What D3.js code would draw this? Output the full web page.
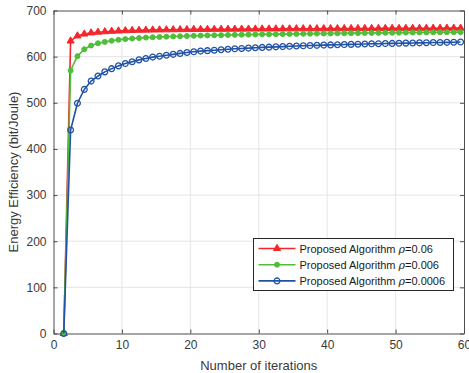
<!DOCTYPE html>
<html>
<head>
<meta charset="utf-8">
<script src="https://cdn.jsdelivr.net/npm/d3@7"></script>
<style>
  body { margin: 0; background: #fff; }
  text { font-family: "Liberation Sans", Arial, sans-serif; }
</style>
</head>
<body>
<div id="chart"></div>
<script>
// iteration index of each sample
const iterations = [1.5, 2.5, 3.5, 4.5, 5.5, 6.5, 7.5, 8.5, 9.5, 10.5,
    11.5, 12.5, 13.5, 14.5, 15.5, 16.5, 17.5, 18.5, 19.5, 20.5,
    21.5, 22.5, 23.5, 24.5, 25.5, 26.5, 27.5, 28.5, 29.5, 30.5,
    31.5, 32.5, 33.5, 34.5, 35.5, 36.5, 37.5, 38.5, 39.5, 40.5,
    41.5, 42.5, 43.5, 44.5, 45.5, 46.5, 47.5, 48.5, 49.5, 50.5,
    51.5, 52.5, 53.5, 54.5, 55.5, 56.5, 57.5, 58.5, 59.5];

const eeRho006 = [0, 634, 645, 649, 651.5, 653, 654, 655, 655.7, 656.3,
    656.8, 657.2, 657.5, 657.8, 658.0, 658.2, 658.4, 658.6, 658.8, 659.0,
    659.1, 659.2, 659.3, 659.4, 659.5, 659.6, 659.7, 659.8, 659.9, 660.0,
    660.1, 660.2, 660.3, 660.4, 660.4, 660.5, 660.6, 660.6, 660.7, 660.8,
    660.8, 660.9, 661.0, 661.0, 661.1, 661.1, 661.2, 661.2, 661.3, 661.3,
    661.4, 661.4, 661.5, 661.5, 661.6, 661.6, 661.7, 661.7, 661.8];

const eeRho0006 = [0, 570, 601, 616, 624, 629, 632, 634.5, 636.5, 638,
    639.3, 640.4, 641.3, 642, 642.7, 643.3, 643.8, 644.3, 644.8, 645.2,
    645.6, 646, 646.3, 646.6, 646.9, 647.2, 647.5, 647.8, 648, 648.3,
    648.5, 648.7, 648.9, 649.1, 649.3, 649.5, 649.7, 649.9, 650.1, 650.3,
    650.5, 650.7, 650.9, 651.0, 651.2, 651.4, 651.5, 651.7, 651.8, 652.0,
    652.1, 652.3, 652.4, 652.5, 652.7, 652.8, 652.9, 653.0, 653.1];

const eeRho00006 = [0, 441, 499, 529, 547, 558, 567, 574, 580, 585,
    589, 593, 596, 599, 601, 603, 605, 607, 609, 610.5,
    612, 613, 614, 615, 616, 617, 617.8, 618.5, 619.2, 620,
    620.6, 621.2, 621.8, 622.4, 623, 623.5, 624, 624.5, 625, 625.4,
    625.8, 626.2, 626.6, 627, 627.4, 627.8, 628.1, 628.4, 628.7, 629,
    629.3, 629.6, 629.9, 630.2, 630.5, 630.8, 631, 631.3, 631.6];

const xTicks = [0, 10, 20, 30, 40, 50, 60];
const yTicks = [0, 100, 200, 300, 400, 500, 600, 700];

const seriesList = [
    { key: 'r1', rho: '0.06', values: eeRho006, color: '#f2262b', marker: 'tri' },
    { key: 'r2', rho: '0.006', values: eeRho0006, color: '#4fbe38', marker: 'dot' },
    { key: 'r3', rho: '0.0006', values: eeRho00006, color: '#2152a6', marker: 'ring' }
];

var margin = { top: 10.5, right: 5, bottom: 39.5, left: 53.5 },
    width = 469 - margin.left - margin.right,
    height = 373 - margin.top - margin.bottom;

var svg = d3.select('#chart').append('svg')
    .attr('width', 469)
    .attr('height', 373)
    .append('g')
    .attr('transform', 'translate(' + margin.left + ',' + margin.top + ')');

var xScale = d3.scaleLinear().domain([0, 60]).range([0, width]);
var yScale = d3.scaleLinear().domain([0, 700]).range([height, 0]);

var axisColor = '#4d4d4d';
var textColor = '#3a3a3a';

// grid
svg.append('g').selectAll('line')
    .data(xTicks.slice(1, -1))
    .enter().append('line')
    .attr('x1', d => xScale(d)).attr('x2', d => xScale(d))
    .attr('y1', 0).attr('y2', height)
    .attr('stroke', '#e5e5e5').attr('stroke-width', 1);

svg.append('g').selectAll('line')
    .data(yTicks.slice(1, -1))
    .enter().append('line')
    .attr('x1', 0).attr('x2', width)
    .attr('y1', d => yScale(d)).attr('y2', d => yScale(d))
    .attr('stroke', '#e5e5e5').attr('stroke-width', 1);

// axes (ticks inside, box on all sides)
function styleAxis(g) {
    g.select('.domain').attr('stroke', axisColor);
    g.selectAll('.tick line').attr('stroke', axisColor);
    g.selectAll('.tick text')
        .attr('fill', textColor)
        .style('font-size', '12px')
        .style('font-family', '"Liberation Sans", Arial, sans-serif');
}

svg.append('g')
    .attr('transform', 'translate(0,' + height + ')')
    .call(d3.axisBottom(xScale).tickValues(xTicks).tickSizeInner(-4).tickSizeOuter(0).tickPadding(7))
    .call(styleAxis);

svg.append('g')
    .call(d3.axisTop(xScale).tickValues(xTicks).tickSizeInner(-4).tickSizeOuter(0).tickFormat(''))
    .call(styleAxis);

svg.append('g')
    .call(d3.axisLeft(yScale).tickValues(yTicks).tickSizeInner(-4).tickSizeOuter(0).tickPadding(7))
    .call(styleAxis);

svg.append('g')
    .attr('transform', 'translate(' + width + ',0)')
    .call(d3.axisRight(yScale).tickValues(yTicks).tickSizeInner(-4).tickSizeOuter(0).tickFormat(''))
    .call(styleAxis);

// axis labels
svg.append('text')
    .attr('x', width / 2)
    .attr('y', height + 36)
    .attr('text-anchor', 'middle')
    .attr('fill', textColor)
    .style('font-size', '13px')
    .text('Number of iterations');

svg.append('text')
    .attr('transform', 'rotate(-90)')
    .attr('x', -height / 2)
    .attr('y', -36)
    .attr('text-anchor', 'middle')
    .attr('fill', textColor)
    .style('font-size', '13px')
    .text('Energy Efficiency (bit/Joule)');

// lines + markers
var lineGen = d3.line()
    .x(function (d) { return xScale(d[0]); })
    .y(function (d) { return yScale(d[1]); });

function drawMarker(g, type, color) {
    if (type === 'tri') {
        g.append('path')
            .attr('d', d3.symbol().type(d3.symbolTriangle).size(22)())
            .attr('fill', color).attr('stroke', color).attr('stroke-width', 1);
    } else if (type === 'dot') {
        g.append('circle').attr('r', 2.5)
            .attr('fill', color).attr('stroke', color).attr('stroke-width', 1);
    } else {
        g.append('circle').attr('r', 2.9)
            .attr('fill', 'none').attr('stroke', color).attr('stroke-width', 1.3);
    }
}

seriesList.forEach(function (s) {
    var pts = iterations.map(function (x, i) { return [x, s.values[i]]; });
    svg.append('path')
        .attr('fill', 'none')
        .attr('stroke', s.color)
        .attr('stroke-width', 1.6)
        .attr('stroke-linejoin', 'round')
        .attr('d', lineGen(pts));
    svg.append('g').selectAll('g')
        .data(pts)
        .enter().append('g')
        .attr('transform', function (d) { return 'translate(' + xScale(d[0]) + ',' + yScale(d[1]) + ')'; })
        .each(function () { drawMarker(d3.select(this), s.marker, s.color); });
});

// legend
var legend = svg.append('g')
    .attr('transform', 'translate(' + (253.5 - margin.left) + ',' + (238.5 - margin.top) + ')');

legend.append('rect')
    .attr('width', 200).attr('height', 52)
    .attr('fill', '#fff')
    .attr('stroke', '#262626').attr('stroke-width', 1);

var item = legend.selectAll('g.item')
    .data(seriesList)
    .enter().append('g')
    .attr('class', 'item')
    .attr('transform', function (d, i) { return 'translate(0,' + (10 + i * 16.2) + ')'; });

item.append('line')
    .attr('x1', 5).attr('x2', 42)
    .attr('stroke', function (d) { return d.color; })
    .attr('stroke-width', 1.6);

item.append('g')
    .attr('transform', 'translate(23.5,0)')
    .each(function (d) { drawMarker(d3.select(this), d.marker, d.color); });

var lt = item.append('text')
    .attr('x', 46)
    .attr('y', 4)
    .attr('fill', '#1a1a1a')
    .style('font-size', '11px');
lt.append('tspan').text('Proposed Algorithm ');
lt.append('tspan')
    .style('font-family', '"DejaVu Serif", "Liberation Serif", serif')
    .style('font-style', 'italic')
    .text('ρ');
lt.append('tspan').text(function (d) { return '=' + d.rho; });
</script>
</body>
</html>
